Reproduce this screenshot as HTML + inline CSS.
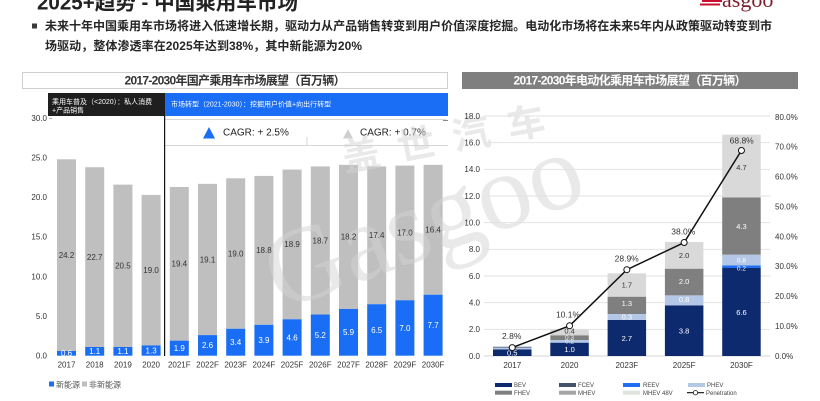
<!DOCTYPE html>
<html><head><meta charset="utf-8"><style>
html,body{margin:0;padding:0;background:#fff;}
svg{display:block;}
text{font-family:"Liberation Sans","Noto Sans CJK SC",sans-serif;}
.ax{font-size:8px;fill:#333;}
.bl{font-size:8px;fill:#fff;text-anchor:middle;}
.gl{font-size:8px;fill:#333;text-anchor:middle;}
.xl{font-size:8px;fill:#333;text-anchor:middle;}
.lg{font-size:6px;fill:#444;}
</style></head><body>
<svg width="820" height="401" viewBox="0 0 820 401" xmlns="http://www.w3.org/2000/svg">
<rect width="820" height="401" fill="#fff"/>

<!-- Header title (cut at top) -->
<text x="37" y="9.5" font-size="21" font-weight="bold" fill="#222" textLength="261" lengthAdjust="spacingAndGlyphs">2025+趋势 - 中国乘用车市场</text>
<!-- logo -->
<g>
<rect x="702" y="0" width="20" height="2" fill="#c8102e"/>
<rect x="700" y="3.5" width="20" height="2" fill="#c8102e"/>
<text x="722" y="7" font-size="22" fill="#7a1f2b" style="font-family:'Liberation Serif',serif">asgoo</text>
</g>
<!-- bullet text -->
<rect x="32" y="23.5" width="5" height="5" fill="#3a3a3a"/>
<text x="45" y="30" font-size="12" font-weight="bold" fill="#262626" textLength="727">未来十年中国乘用车市场将进入低速增长期，驱动力从产品销售转变到用户价值深度挖掘。电动化市场将在未来5年内从政策驱动转变到市</text>
<text x="45" y="50" font-size="12" font-weight="bold" fill="#262626" textLength="317">场驱动，整体渗透率在2025年达到38%，其中新能源为20%</text>

<!-- ================= LEFT CHART ================= -->
<rect x="22.5" y="72.5" width="425" height="16" fill="#fff" stroke="#cfcfcf" stroke-width="1"/>
<text x="235" y="84.5" font-size="12" font-weight="bold" fill="#333" text-anchor="middle" textLength="221">2017-2030年国产乘用车市场展望（百万辆）</text>

<rect x="48" y="93" width="117" height="23" fill="#1f1f1f"/>
<text x="52" y="104" font-size="7" fill="#fff">乘用车普及（&lt;2020）：私人消费</text>
<text x="52" y="112.5" font-size="7" fill="#fff">+产品销售</text>
<rect x="165" y="93" width="283" height="23" fill="#1a6ef5"/>
<text x="171" y="106.5" font-size="7" fill="#fff">市场转型（2021-2030）：挖掘用户价值+向出行转型</text>

<!-- CAGR row -->
<line x1="165" y1="119.5" x2="446" y2="119.5" stroke="#d6d6d6" stroke-width="1"/>
<line x1="165" y1="145.5" x2="448" y2="145.5" stroke="#d6d6d6" stroke-width="1"/>
<line x1="307" y1="137" x2="307" y2="145" stroke="#d6d6d6" stroke-width="1"/>
<line x1="443" y1="120.5" x2="448" y2="120.5" stroke="#888" stroke-width="1"/>
<polygon points="203,138.5 215,138.5 209,127" fill="#1a6ef5"/>
<text x="223" y="135.5" font-size="10" fill="#222">CAGR: + 2.5%</text>
<polygon points="343,138.5 353,138.5 348,129" fill="#cfcfcf"/>
<text x="360" y="135.5" font-size="10" fill="#222">CAGR: + 0.7%</text>

<!-- left y axis -->
<g class="ax" text-anchor="end">
<text x="47" y="358.5">0.0</text>
<text x="47" y="318.9">5.0</text>
<text x="47" y="279.3">10.0</text>
<text x="47" y="239.7">15.0</text>
<text x="47" y="200.1">20.0</text>
<text x="47" y="160.5">25.0</text>
<text x="47" y="120.9">30.0</text>
</g>
<line x1="49" y1="118.5" x2="52" y2="118.5" stroke="#999" stroke-width="0.8"/>

<!-- bars: gray -->
<g fill="#bfbfbf">
<rect x="57" y="159.29" width="19" height="191.66"/>
<rect x="85.2" y="167.21" width="19" height="179.78"/>
<rect x="113.4" y="184.63" width="19" height="162.36"/>
<rect x="141.6" y="194.92" width="19" height="150.48"/>
<rect x="169.8" y="187.0" width="19" height="153.65"/>
<rect x="198.0" y="183.84" width="19" height="151.27"/>
<rect x="226.2" y="178.29" width="19" height="150.48"/>
<rect x="254.4" y="175.91" width="19" height="148.9"/>
<rect x="282.6" y="169.58" width="19" height="149.69"/>
<rect x="310.8" y="166.42" width="19" height="148.1"/>
<rect x="339.0" y="164.83" width="19" height="144.14"/>
<rect x="367.2" y="166.41" width="19" height="137.81"/>
<rect x="395.4" y="165.62" width="19" height="134.64"/>
<rect x="423.6" y="164.83" width="19" height="129.89"/>
</g>
<!-- bars: blue -->
<g fill="#1a6ef5">
<rect x="57" y="350.95" width="19" height="4.75"/>
<rect x="85.2" y="346.99" width="19" height="8.71"/>
<rect x="113.4" y="346.99" width="19" height="8.71"/>
<rect x="141.6" y="345.4" width="19" height="10.3"/>
<rect x="169.8" y="340.65" width="19" height="15.05"/>
<rect x="198.0" y="335.11" width="19" height="20.59"/>
<rect x="226.2" y="328.77" width="19" height="26.93"/>
<rect x="254.4" y="324.81" width="19" height="30.89"/>
<rect x="282.6" y="319.27" width="19" height="36.43"/>
<rect x="310.8" y="314.52" width="19" height="41.18"/>
<rect x="339.0" y="308.97" width="19" height="46.73"/>
<rect x="367.2" y="304.22" width="19" height="51.48"/>
<rect x="395.4" y="300.26" width="19" height="55.44"/>
<rect x="423.6" y="294.72" width="19" height="60.98"/>
</g>
<!-- divider -->
<line x1="164.6" y1="116" x2="164.6" y2="356" stroke="#111" stroke-width="1.2"/>

<!-- watermark -->
<g opacity="0.5" fill="#d4d4d4">
<text x="280" y="311" font-size="108" transform="rotate(-20 280 311)" style="font-family:'Liberation Serif',serif">Gasgoo</text>
<text x="345" y="172" font-size="38" font-weight="bold" letter-spacing="18" transform="rotate(-11 345 172)">盖世汽车</text>
</g>

<!-- gray labels -->
<g class="gl">
<text x="66.5" y="257.9">24.2</text>
<text x="94.7" y="259.9">22.7</text>
<text x="122.9" y="268.6">20.5</text>
<text x="151.1" y="273.0">19.0</text>
<text x="179.3" y="266.6">19.4</text>
<text x="207.5" y="262.3">19.1</text>
<text x="235.7" y="256.3">19.0</text>
<text x="263.9" y="253.2">18.8</text>
<text x="292.1" y="247.2">18.9</text>
<text x="320.3" y="243.3">18.7</text>
<text x="348.5" y="239.7">18.2</text>
<text x="376.7" y="238.1">17.4</text>
<text x="404.9" y="235.7">17.0</text>
<text x="433.1" y="232.6">16.4</text>
</g>
<!-- blue labels -->
<g class="bl">
<text x="66.5" y="356.1">0.6</text>
<text x="94.7" y="354.1">1.1</text>
<text x="122.9" y="354.1">1.1</text>
<text x="151.1" y="353.4">1.3</text>
<text x="179.3" y="351.0">1.9</text>
<text x="207.5" y="348.2">2.6</text>
<text x="235.7" y="345.0">3.4</text>
<text x="263.9" y="343.1">3.9</text>
<text x="292.1" y="340.3">4.6</text>
<text x="320.3" y="337.9">5.2</text>
<text x="348.5" y="335.1">5.9</text>
<text x="376.7" y="332.8">6.5</text>
<text x="404.9" y="330.8">7.0</text>
<text x="433.1" y="328.0">7.7</text>
</g>
<!-- x labels -->
<g class="xl">
<text x="66.5" y="367.5">2017</text>
<text x="94.7" y="367.5">2018</text>
<text x="122.9" y="367.5">2019</text>
<text x="151.1" y="367.5">2020</text>
<text x="179.3" y="367.5">2021F</text>
<text x="207.5" y="367.5">2022F</text>
<text x="235.7" y="367.5">2023F</text>
<text x="263.9" y="367.5">2024F</text>
<text x="292.1" y="367.5">2025F</text>
<text x="320.3" y="367.5">2026F</text>
<text x="348.5" y="367.5">2027F</text>
<text x="376.7" y="367.5">2028F</text>
<text x="404.9" y="367.5">2029F</text>
<text x="433.1" y="367.5">2030F</text>
</g>
<!-- legend left -->
<rect x="49" y="381.5" width="5" height="5" fill="#1a6ef5"/>
<text x="56" y="387.5" font-size="8" fill="#555">新能源</text>
<rect x="82" y="381.5" width="5" height="5" fill="#bfbfbf"/>
<text x="89" y="387.5" font-size="8" fill="#555">非新能源</text>

<!-- ================= RIGHT CHART ================= -->
<rect x="462" y="72" width="336" height="17" fill="#7f7f7f"/>
<text x="630" y="84.5" font-size="12" font-weight="bold" fill="#fff" text-anchor="middle" textLength="233">2017-2030年电动化乘用车市场展望（百万辆）</text>

<!-- gridlines -->
<g stroke="#e2e2e2" stroke-width="1">
<line x1="484" y1="116" x2="770" y2="116"/>
<line x1="484" y1="142.67" x2="770" y2="142.67"/>
<line x1="484" y1="169.33" x2="770" y2="169.33"/>
<line x1="484" y1="196" x2="770" y2="196"/>
<line x1="484" y1="222.67" x2="770" y2="222.67"/>
<line x1="484" y1="249.33" x2="770" y2="249.33"/>
<line x1="484" y1="276" x2="770" y2="276"/>
<line x1="484" y1="302.67" x2="770" y2="302.67"/>
<line x1="484" y1="329.33" x2="770" y2="329.33"/>
<line x1="484" y1="356" x2="770" y2="356" stroke="#d4d4d4"/>
</g>
<g class="ax" text-anchor="end">
<text x="480" y="358.8">0.0</text>
<text x="480" y="332.1">2.0</text>
<text x="480" y="305.5">4.0</text>
<text x="480" y="278.8">6.0</text>
<text x="480" y="252.1">8.0</text>
<text x="480" y="225.5">10.0</text>
<text x="480" y="198.8">12.0</text>
<text x="480" y="172.1">14.0</text>
<text x="480" y="145.5">16.0</text>
<text x="480" y="118.8">18.0</text>
</g>
<g class="ax">
<text x="775" y="358.8">0.0%</text>
<text x="775" y="328.9">10.0%</text>
<text x="775" y="299.1">20.0%</text>
<text x="775" y="269.2">30.0%</text>
<text x="775" y="239.3">40.0%</text>
<text x="775" y="209.4">50.0%</text>
<text x="775" y="179.6">60.0%</text>
<text x="775" y="149.7">70.0%</text>
<text x="775" y="119.8">80.0%</text>
</g>

<!-- stacked bars -->
<!-- 2017 -->
<rect x="493" y="349.33" width="38.5" height="6.67" fill="#0e2a6e"/>
<rect x="493" y="348.0" width="38.5" height="1.33" fill="#b4c7e7"/>
<rect x="493" y="346.67" width="38.5" height="1.33" fill="#7f8aa0"/>
<!-- 2020 -->
<rect x="550.3" y="342.67" width="38.5" height="13.33" fill="#0e2a6e"/>
<rect x="550.3" y="340.0" width="38.5" height="2.67" fill="#b4c7e7"/>
<rect x="550.3" y="336.0" width="38.5" height="4.0" fill="#7f7f7f"/>
<rect x="550.3" y="334.67" width="38.5" height="1.33" fill="#a6a6a6"/>
<rect x="550.3" y="329.33" width="38.5" height="5.33" fill="#d9d9d9"/>
<!-- 2023F -->
<rect x="607.6" y="320.0" width="38.5" height="36.0" fill="#0e2a6e"/>
<rect x="607.6" y="314.0" width="38.5" height="6.0" fill="#b4c7e7"/>
<rect x="607.6" y="296.67" width="38.5" height="17.33" fill="#7f7f7f"/>
<rect x="607.6" y="273.33" width="38.5" height="23.33" fill="#d9d9d9"/>
<!-- 2025F -->
<rect x="664.9" y="305.33" width="38.5" height="50.67" fill="#0e2a6e"/>
<rect x="664.9" y="295.33" width="38.5" height="10.0" fill="#b4c7e7"/>
<rect x="664.9" y="268.67" width="38.5" height="26.67" fill="#7f7f7f"/>
<rect x="664.9" y="242.0" width="38.5" height="26.67" fill="#d9d9d9"/>
<!-- 2030F -->
<rect x="722.2" y="268.0" width="38.5" height="88.0" fill="#0e2a6e"/>
<rect x="722.2" y="265.33" width="38.5" height="2.67" fill="#1f6ff0"/>
<rect x="722.2" y="254.67" width="38.5" height="10.67" fill="#b4c7e7"/>
<rect x="722.2" y="197.33" width="38.5" height="57.33" fill="#7f7f7f"/>
<rect x="722.2" y="134.67" width="38.5" height="62.67" fill="#d9d9d9"/>

<!-- segment labels -->
<g font-size="7.5" text-anchor="middle">
<text x="512.25" y="355.5" fill="#fff">0.5</text>
<text x="569.55" y="352.1" fill="#fff">1.0</text>
<text x="569.55" y="343.3" fill="#e8eef8" font-size="6.5">0.2</text>
<text x="569.55" y="339.3" fill="#eee" font-size="6.5">0.3</text>
<text x="569.55" y="333.6" fill="#333">0.4</text>
<text x="626.85" y="340.8" fill="#fff">2.7</text>
<text x="626.85" y="319.6" fill="#fff">0.3</text>
<text x="626.85" y="306.1" fill="#fff">1.3</text>
<text x="626.85" y="287.3" fill="#333">1.7</text>
<text x="684.15" y="333.5" fill="#fff">3.8</text>
<text x="684.15" y="302.0" fill="#fff">0.8</text>
<text x="684.15" y="284.0" fill="#fff">2.0</text>
<text x="684.15" y="257.8" fill="#333">2.0</text>
<text x="741.45" y="314.8" fill="#fff">6.6</text>
<text x="741.45" y="270.3" fill="#fff" font-size="6.5">0.2</text>
<text x="741.45" y="262.5" fill="#fff" font-size="6.5">0.8</text>
<text x="741.45" y="229.2" fill="#fff">4.3</text>
<text x="741.45" y="169.8" fill="#333">4.7</text>
</g>

<!-- penetration line -->
<polyline points="512.25,347.6 569.55,325.8 626.85,269.7 684.15,242.5 741.45,150.5" fill="none" stroke="#111" stroke-width="1.5"/>
<g fill="#fff" stroke="#111" stroke-width="1">
<circle cx="512.25" cy="347.6" r="3"/>
<circle cx="569.55" cy="325.8" r="3"/>
<circle cx="626.85" cy="269.7" r="3"/>
<circle cx="684.15" cy="242.5" r="3"/>
<circle cx="741.45" cy="150.5" r="3"/>
</g>
<g font-size="8.5" fill="#333" text-anchor="middle">
<text x="511.7" y="339">2.8%</text>
<text x="568" y="317.3">10.1%</text>
<text x="626.7" y="261.3">28.9%</text>
<text x="683.3" y="234.7">38.0%</text>
<text x="741.7" y="143.7">68.8%</text>
</g>

<!-- x labels right -->
<g class="xl">
<text x="512.25" y="368">2017</text>
<text x="569.55" y="368">2020</text>
<text x="626.85" y="368">2023F</text>
<text x="684.15" y="368">2025F</text>
<text x="741.45" y="368">2030F</text>
</g>

<!-- legend right -->
<rect x="495" y="383" width="17" height="4" fill="#0e2a6e"/>
<text class="lg" x="514" y="387.2">BEV</text>
<rect x="559" y="383" width="17" height="4" fill="#44546a"/>
<text class="lg" x="578" y="387.2">FCEV</text>
<rect x="623" y="383" width="17" height="4" fill="#1f6ff0"/>
<text class="lg" x="643" y="387.2">REEV</text>
<rect x="688" y="383" width="17" height="4" fill="#b4c7e7"/>
<text class="lg" x="707" y="387.2">PHEV</text>
<rect x="495" y="390.7" width="17" height="4" fill="#7f7f7f"/>
<text class="lg" x="514" y="395">FHEV</text>
<rect x="559" y="390.7" width="17" height="4" fill="#a6a6a6"/>
<text class="lg" x="578" y="395">MHEV</text>
<rect x="623" y="390.7" width="17" height="4" fill="#dde3dd"/>
<text class="lg" x="643" y="395">MHEV 48V</text>
<line x1="687" y1="392.7" x2="704" y2="392.7" stroke="#111" stroke-width="1.2"/>
<circle cx="695.5" cy="392.7" r="2.2" fill="#fff" stroke="#111" stroke-width="0.8"/>
<text class="lg" x="706" y="395">Penetration</text>
</svg>
</body></html>
